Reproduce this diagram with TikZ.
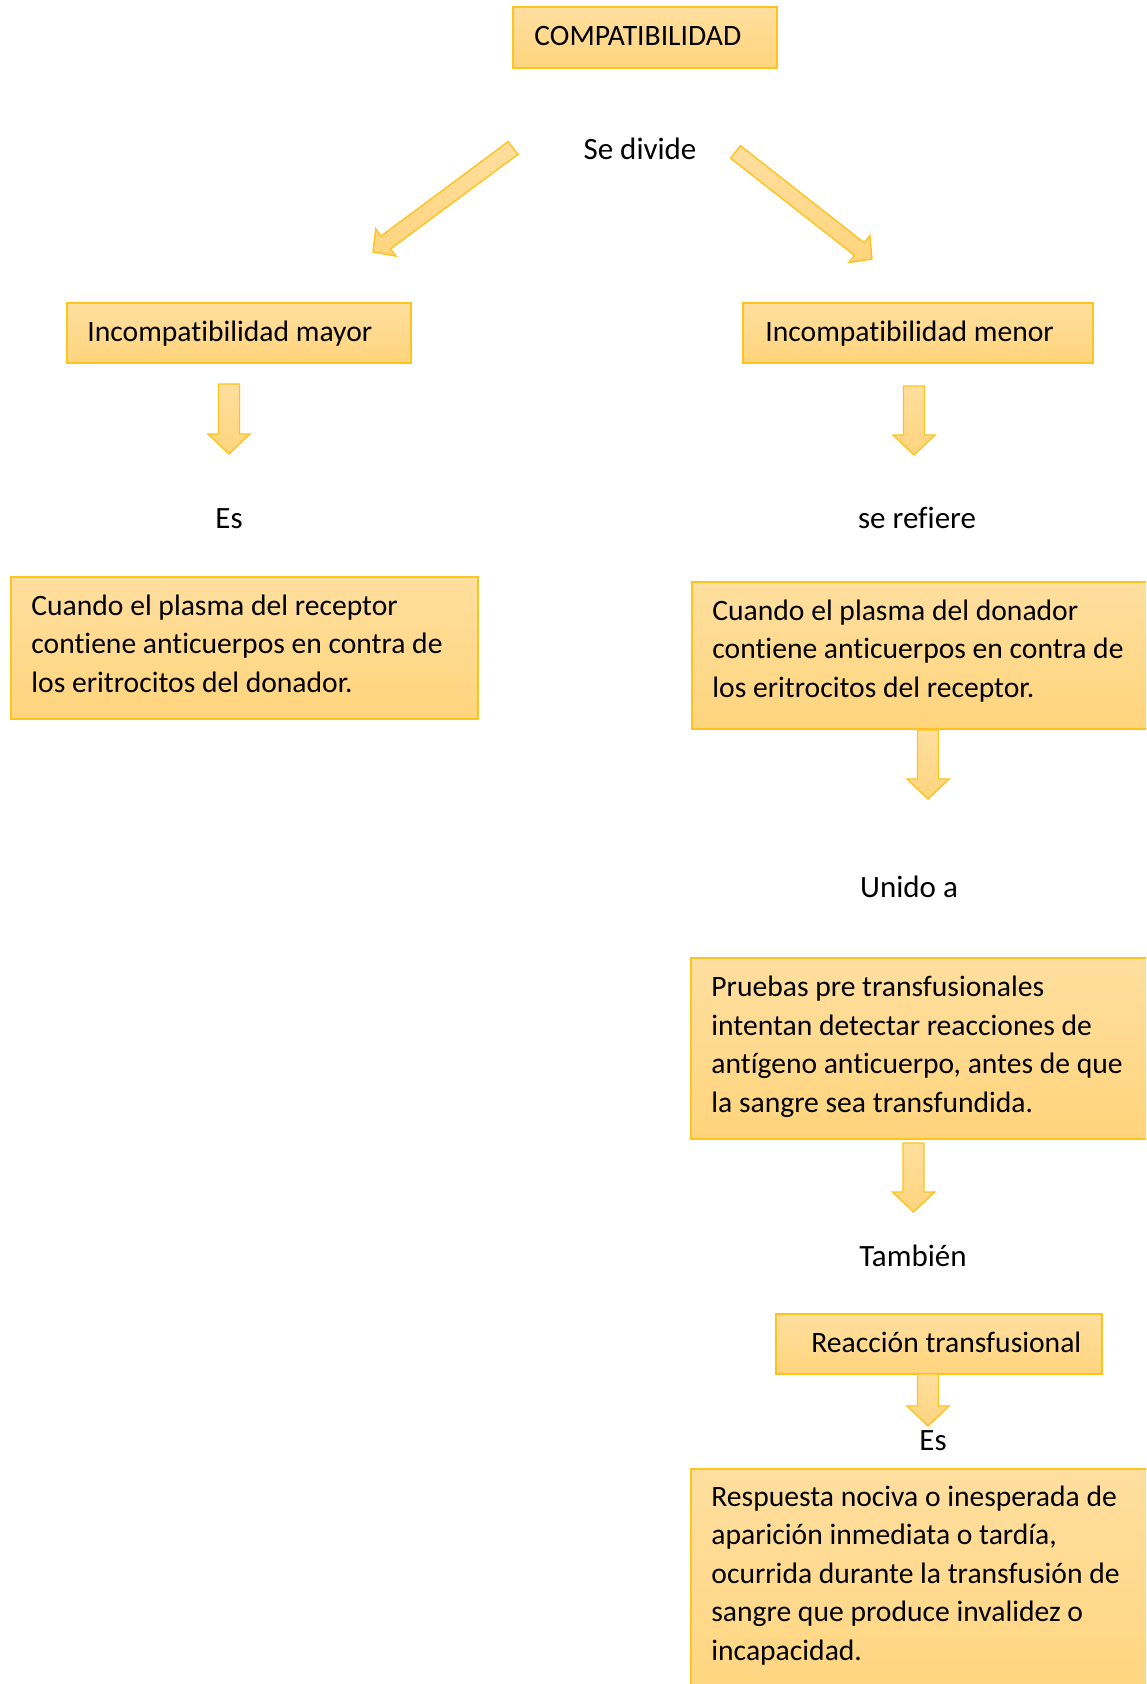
\documentclass[tikz,border=0pt]{standalone}
\usepackage{fontspec}
\setmainfont{Carlito}[Ligatures=CommonOff]
\definecolor{boxtop}{HTML}{FFDF9F}
\definecolor{boxbot}{HTML}{FFD47C}
\definecolor{boxline}{HTML}{FFC31F}
\tikzset{
  boxshape/.style={draw=boxline, line width=0.8pt, top color=boxtop, bottom color=boxbot},
  blockarrow/.style={draw=boxline, line width=0.7pt, top color=boxtop, bottom color=boxbot, line join=miter},
  boxtext/.style={anchor=base west, inner sep=0pt, align=left, font=\fontsize{14.8}{19.25}\selectfont},
  lbl/.style={anchor=base, inner sep=0pt, font=\fontsize{15.5}{18}\selectfont}
}
\newcommand\blockdown[4]{%
  \draw[blockarrow] ({#1-10.5},#2) -- ({#1+10.5},#2) -- ({#1+10.5},#3) -- ({#1+21},#3)
    -- (#1,#4) -- ({#1-21},#3) -- ({#1-10.5},#3) -- cycle;}
\begin{document}
\begin{tikzpicture}[x=0.5pt,y=-0.5pt]
\useasboundingbox (0,0) rectangle (1146,1684);
\begin{scope}
\clip (0,0) rectangle (1146,1684);
% boxes
\draw[boxshape] (513,7) rectangle (777,68);
\draw[boxshape] (67,303) rectangle (411,363);
\draw[boxshape] (743,303) rectangle (1093,363);
\draw[boxshape] (11,577) rectangle (478,719);
\draw[boxshape] (692,582) rectangle (1170,729);
\draw[boxshape] (691,958) rectangle (1170,1139);
\draw[boxshape] (776,1314) rectangle (1102,1374);
\draw[boxshape] (691,1469) rectangle (1170,1720);
% box texts (anchor = baseline of last line)
\node[boxtext] (compat) at (534,46) {COMPATIBILIDAD};
\node[boxtext] (mayor) at (87,342) {Incompatibilidad mayor};
\node[boxtext] (menor) at (765,342) {Incompatibilidad menor};
\node[boxtext] (defmayor) at (31,692) {Cuando el plasma del receptor\\contiene anticuerpos en contra de\\los eritrocitos del donador.};
\node[boxtext] (defmenor) at (712,697) {Cuando el plasma del donador\\contiene anticuerpos en contra de\\los eritrocitos del receptor.};
\node[boxtext] (pruebas) at (711,1112) {Pruebas pre transfusionales\\intentan detectar reacciones de\\antígeno anticuerpo, antes de que\\la sangre sea transfundida.};
\node[boxtext] (reaccion) at (811,1352) {Reacción transfusional};
\node[boxtext] (respuesta) at (711,1660) {Respuesta nociva o inesperada de\\aparición inmediata o tardía,\\ocurrida durante la transfusión de\\sangre que produce invalidez o\\incapacidad.};
% labels
\node[lbl] (sedivide) at (640,160) {Se divide};
\node[lbl] (es1) at (229,528) {Es};
\node[lbl] (serefiere) at (917,528) {se refiere};
\node[lbl] (unido) at (909,897) {Unido a};
\node[lbl] (tambien) at (913,1266) {También};
\node[lbl] (es2) at (933,1450) {Es};
% diagonal block arrows
\draw[blockarrow] (508.2,141.6) -- (381.0,236.1) -- (375.7,228.9) -- (373,252)
  -- (395.9,256.1) -- (390.6,248.9) -- (517.8,154.4) -- cycle;
\draw[blockarrow] (740.4,145.7) -- (864.3,242.8) -- (869.9,235.7) -- (872,259)
  -- (848.9,262.5) -- (854.5,255.4) -- (730.6,158.3) -- cycle;
% vertical block arrows
\blockdown{229}{384}{434}{454}
\blockdown{914}{386}{435}{455}
\blockdown{928}{730}{779}{799}
\blockdown{913.5}{1143}{1192}{1212}
\blockdown{928}{1374}{1406}{1426}
\end{scope}
\end{tikzpicture}
\end{document}
